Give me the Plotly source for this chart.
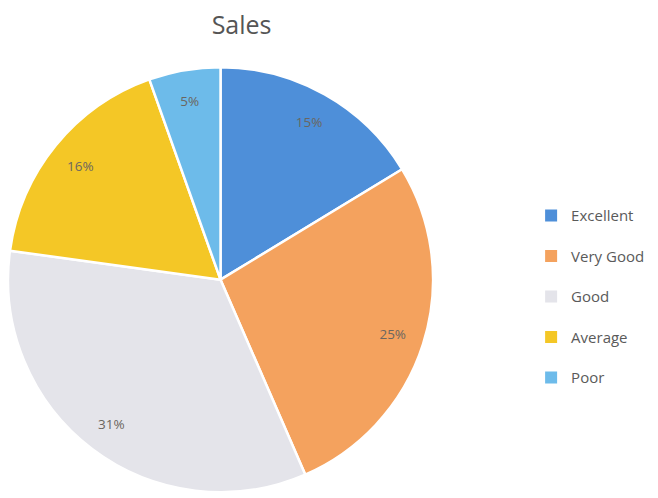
import plotly.graph_objects as go

categories = ["Excellent", "Very Good", "Good", "Average", "Poor"]
values = [15, 25, 31, 16, 5]
colors = ["#4E8FD9", "#F4A25E", "#E4E4EA", "#F4C726", "#6DBBEA"]

labels_text = [f"{v}%" for v in values]
pie_domain = dict(x=[0.0, 0.646], y=[0.012, 0.897])

fig = go.Figure()
# full pie (fill)
fig.add_trace(go.Pie(
    labels=categories, values=values, textinfo="none",
    marker=dict(colors=colors, line=dict(color="white", width=2.5)),
    sort=False, direction="clockwise", rotation=0,
    showlegend=False, domain=pie_domain, hoverinfo="label+value",
))
# transparent ring overlay that carries the labels near the outer edge
fig.add_trace(go.Pie(
    labels=categories, values=values, text=labels_text,
    textinfo="text", textposition="inside", insidetextorientation="horizontal",
    textfont=dict(family="Open Sans, Liberation Sans, sans-serif", size=13.5, color="#6b6660"),
    marker=dict(colors=["rgba(0,0,0,0)"] * len(values), line=dict(width=0)),
    hole=0.7, sort=False, direction="clockwise", rotation=0,
    showlegend=False, domain=pie_domain, hoverinfo="skip",
))

for i, (cat, col) in enumerate(zip(categories, colors)):
    fig.add_trace(go.Scatter(
        x=[None], y=[None], mode="markers", name=cat,
        marker=dict(symbol="square", size=8, color=col),
        legendgroup=f"g{i}", showlegend=True,
    ))

fig.update_layout(
    width=658, height=498,
    margin=dict(l=0, r=0, t=0, b=0),
    paper_bgcolor="white", plot_bgcolor="white",
    title=dict(text="Sales", x=0.355, xanchor="center", y=0.965, yanchor="middle",
               font=dict(family="Open Sans, Liberation Sans, sans-serif", size=25, color="#555555")),
    xaxis=dict(visible=False), yaxis=dict(visible=False),
    legend=dict(x=0.795, xanchor="left", y=0.42, yanchor="middle",
                font=dict(family="Open Sans, Liberation Sans, sans-serif", size=15, color="#5a5a5a"),
                tracegroupgap=18, itemsizing="constant", bgcolor="rgba(0,0,0,0)"),
)

fig.write_html("out.html")
